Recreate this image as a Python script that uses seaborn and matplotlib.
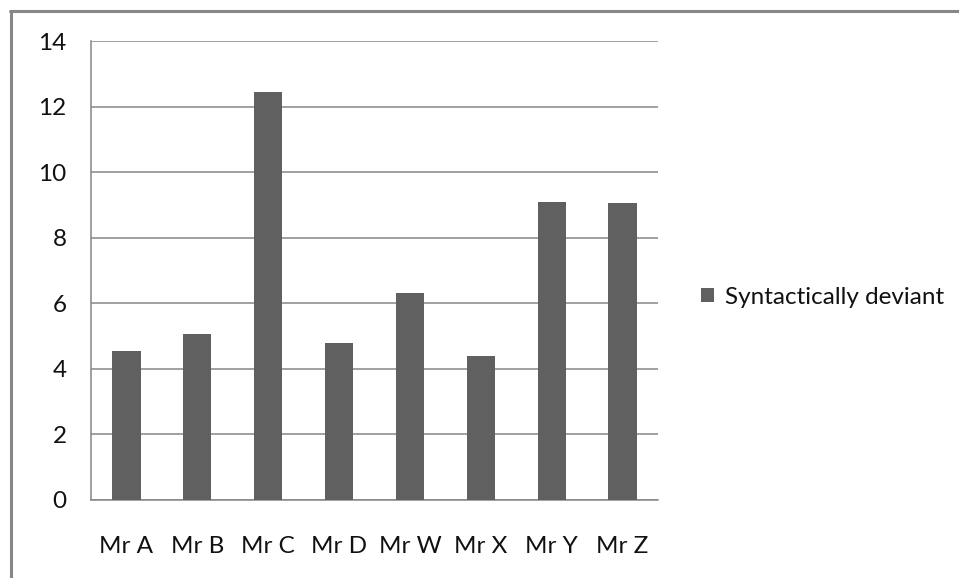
import matplotlib
matplotlib.use('Agg')
import matplotlib.pyplot as plt
from matplotlib.lines import Line2D
from matplotlib.ticker import FixedLocator
import seaborn as sns
import pandas as pd

speakers = ['Mr A', 'Mr B', 'Mr C', 'Mr D', 'Mr W', 'Mr X', 'Mr Y', 'Mr Z']
deviant = [4.55, 5.07, 12.45, 4.8, 6.32, 4.4, 9.1, 9.06]
y_ticks = [0, 2, 4, 6, 8, 10, 12, 14]

df = pd.DataFrame({'speaker': speakers, 'value': deviant})

sns.set_style('white')
plt.rcParams['font.family'] = ['Lato', 'DejaVu Sans']

grey = '#868686'
bar_col = '#606060'
fs = 17.5

fig = plt.figure(figsize=(9.59, 5.78), dpi=100)
ax = fig.add_axes([91 / 959, 78 / 578, 567 / 959, 459 / 578])

sns.barplot(data=df, x='speaker', y='value', color=bar_col, saturation=1,
            width=0.4, ax=ax, label='Syntactically deviant', zorder=3, linewidth=0)

ax.set_xlim(-0.5, len(speakers) - 0.5)
ax.set_ylim(0, 14)
ax.set_yticks(y_ticks)
ax.yaxis.grid(True, color=grey, linewidth=1.1, zorder=0)
ax.set_axisbelow(True)
ax.set_xlabel('')
ax.set_ylabel('')

for s in ['top', 'right']:
    ax.spines[s].set_visible(False)
for s in ['left', 'bottom']:
    ax.spines[s].set_color(grey)
    ax.spines[s].set_linewidth(1.1)

ax.tick_params(axis='y', length=6.5, width=1.1, color=grey, pad=11, labelsize=fs, labelcolor='#111111')
ax.tick_params(axis='x', which='major', length=0, pad=26, labelsize=fs, labelcolor='#111111')
ax.xaxis.set_minor_locator(FixedLocator([i - 0.5 for i in range(len(speakers) + 1)]))
ax.tick_params(axis='x', which='minor', length=6.5, width=1.1, color=grey, direction='out')

leg = ax.legend(loc='center left', bbox_to_anchor=(701 / 959, 1 - 297 / 578),
                bbox_transform=fig.transFigure, frameon=False, fontsize=fs,
                handlelength=0.55, handleheight=0.55, handletextpad=0.45,
                borderpad=0, borderaxespad=0)
for t in leg.get_texts():
    t.set_color('#111111')

# chart frame
fig.add_artist(Line2D([11 / 959, 11 / 959], [0, 1 - 11 / 578], color='#888888', linewidth=2.2))
fig.add_artist(Line2D([10 / 959, 1], [1 - 11 / 578, 1 - 11 / 578], color='#888888', linewidth=2.2))

fig.savefig('out.png', dpi=100)
plt.close()
